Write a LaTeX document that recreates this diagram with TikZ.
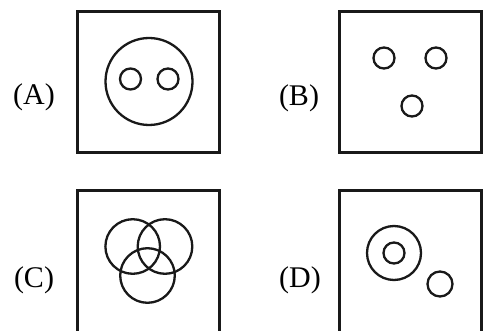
\documentclass[tikz,border=0pt]{standalone}
\usepackage{fontspec}
\setmainfont{Liberation Serif}
\begin{document}
\begin{tikzpicture}[x=1pt,y=-1pt,
  frame/.style={draw=black!90, line width=3pt},
  ring/.style={draw=black!90, line width=2.3pt},
  lbl/.style={font=\fontsize{30}{33}\selectfont, inner sep=0pt}]
\useasboundingbox (0,0) rectangle (484,331);
% (A)
\node[lbl] (la) at (34,97) {(A)};
\draw[frame] (77.5,11.5) rectangle (219.5,152.5);
\draw[ring] (149,81.5) circle (43.5);
\draw[ring] (130.5,79) circle (10.5);
\draw[ring] (168,79) circle (10.5);
% (B)
\node[lbl] (lb) at (299,98) {(B)};
\draw[frame] (339.5,11.5) rectangle (481,152.5);
\draw[ring] (384,58) circle (10.5);
\draw[ring] (436,58) circle (10.5);
\draw[ring] (412,106) circle (10.5);
% (C)
\node[lbl] (lc) at (34,280) {(C)};
\draw[frame] (77.5,190.5) rectangle (219.5,332.5);
\draw[ring] (132.7,246.5) circle (27.3);
\draw[ring] (165,246.5) circle (27.3);
\draw[ring] (147.5,275.5) circle (27.3);
% (D)
\node[lbl] (ld) at (300,280) {(D)};
\draw[frame] (339.5,190.5) rectangle (481,332.5);
\draw[ring] (394,253) circle (27);
\draw[ring] (394,253) circle (10.5);
\draw[ring] (440,284) circle (12.5);
\end{tikzpicture}
\end{document}
